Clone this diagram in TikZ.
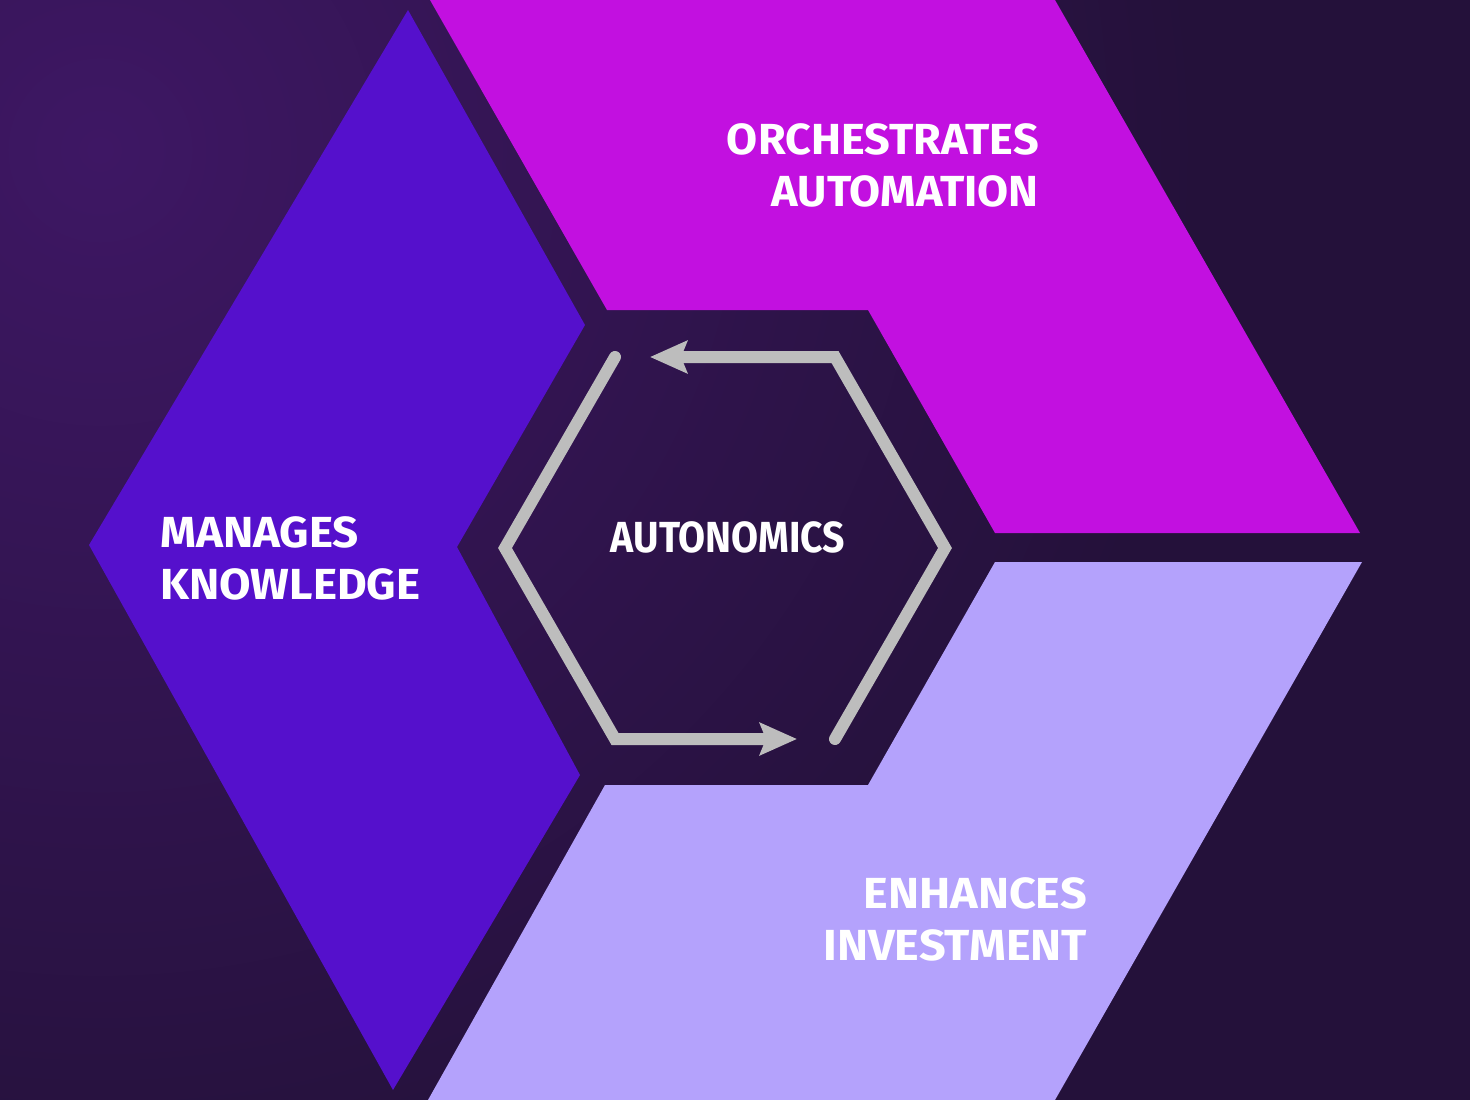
\documentclass[tikz,border=0pt]{standalone}
\usepackage{fontspec}
\setmainfont{Fira Sans}
\usetikzlibrary{arrows.meta}
\definecolor{sfondo}{HTML}{24113A}
\definecolor{alone}{HTML}{3E1764}
\definecolor{viola}{HTML}{5510CC}
\definecolor{fucsia}{HTML}{C210E0}
\definecolor{lilla}{HTML}{B4A2FC}
\definecolor{grigio}{HTML}{BDBDBD}
\begin{document}
\begin{tikzpicture}[x=1pt,y=-1pt,
        freccia/.style={draw=grigio,line width=12pt,line cap=round,line join=miter,
            -{Stealth[length=37pt,width=32pt,inset=6pt]}},
        etichetta/.style={text=white,inner sep=0pt,
            font=\fontsize{43.5}{52}\selectfont\bfseries\addfontfeature{FakeStretch=#1}},
        etichetta/.default=1]
        \useasboundingbox (0,0) rectangle (1470,1100);
        \fill[sfondo] (0,0) rectangle (1470,1100); % sfondo
        \begin{scope}
            \clip (0,0) rectangle (1470,1100);
            \shade[inner color=alone,outer color=sfondo] (100,150) circle (1100);
        \end{scope}
        % Settori
        \fill[viola] (408,10) -- (585,325) -- (457,547) -- (580,775) -- (393,1090) -- (89,545) -- cycle;
        \fill[fucsia] (430,0) -- (1055,0) -- (1360,533) -- (995,533) -- (868,310) -- (607,310) -- cycle;
        \fill[lilla] (1362,562) -- (995,562) -- (868,785) -- (605,785) -- (428,1100) -- (1055,1100) -- cycle;
        % Ciclo centrale
        \draw[freccia] (615,357) -- (505,548) -- (615,739) -- (797,739);
        \draw[freccia] (835,739) -- (945,548) -- (835,357) -- (650,357);
        % Testi
        \node[etichetta=1.035,anchor=north east,align=right] (orch) at (1039,123) {ORCHESTRATES\\AUTOMATION};
        \node[etichetta=1.05,anchor=north west,align=left] (know) at (160,516) {MANAGES\\KNOWLEDGE};
        \node[etichetta=1.075,anchor=north east,align=right] (inv) at (1087,877) {ENHANCES\\INVESTMENT};
        \node[etichetta=0.9] (auto) at (728,537.5) {AUTONOMICS};
    \end{tikzpicture}
\end{document}
